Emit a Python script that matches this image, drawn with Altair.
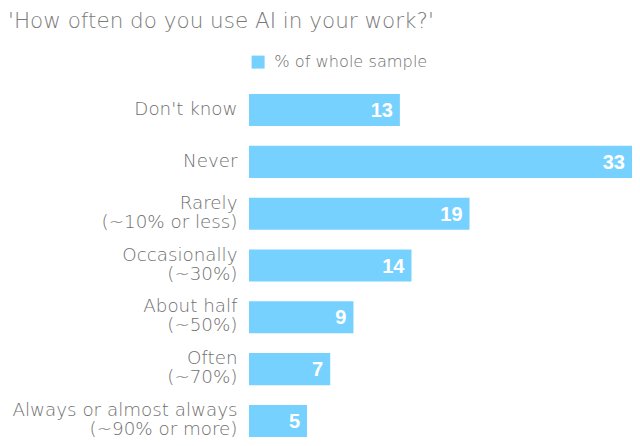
import altair as alt
import pandas as pd

categories = [
    "Don't know",
    "Never",
    "Rarely\n(~10% or less)",
    "Occasionally\n(~30%)",
    "About half\n(~50%)",
    "Often\n(~70%)",
    "Always or almost always\n(~90% or more)",
]
values = [13, 33, 19, 14, 9, 7, 5]
series_name = "% of whole sample"

df = pd.DataFrame({"category": categories, "value": values, "series": series_name})

BAR = "#77D1FF"
GRAY = "#6f6f6f"
FONT = "DejaVu Sans"

base = alt.Chart(df).encode(
    y=alt.Y(
        "category:N",
        sort=categories,
        scale=alt.Scale(paddingInner=0.38, paddingOuter=0.0),
        axis=alt.Axis(
            title=None,
            domain=False,
            ticks=False,
            labelPadding=12,
            labelFontSize=18.3,
            labelFont=FONT,
            labelFontWeight=200,
            labelColor=GRAY,
            labelLimit=0,
            labelLineHeight=19,
            labelOffset={
                "condition": {"test": "indexof(datum.value, '\\n') >= 0", "value": -10},
                "value": 0,
            },
            labelExpr="split(datum.label, '\\n')",
        ),
    ),
    x=alt.X("value:Q", scale=alt.Scale(domain=[0, 33], nice=False), axis=None),
)

bars = base.mark_bar().encode(
    color=alt.Color(
        "series:N",
        scale=alt.Scale(range=[BAR]),
        legend=alt.Legend(
            title=None,
            orient="none",
            legendX=1,
            legendY=-40,
            symbolType="square",
            symbolSize=169,
            symbolStrokeWidth=0,
            labelFontSize=16.2,
            labelFont=FONT,
            labelFontWeight=200,
            labelColor=GRAY,
            labelOffset=8,
        ),
    )
)

labels = base.mark_text(
    align="right", baseline="middle", dx=-7, dy=1, color="white",
    fontSize=20, fontWeight="bold", font="Liberation Sans",
).encode(text="value:Q")

chart = (
    alt.layer(bars, labels)
    .properties(
        width=383,
        height=343,
        autosize=alt.AutoSizeParams(type="none"),
        padding={"left": 241, "top": 86, "right": 0, "bottom": 1},
        title=alt.TitleParams(
            "'How often do you use AI in your work?'",
            anchor="start",
            frame="group",
            dx=-241,
            fontSize=21.5,
            font=FONT,
            fontWeight=200,
            color="#7a7a7a",
            offset=22,
        ),
    )
    .configure_view(stroke=None)
)

chart.save("out.html", embed_options={"renderer": "svg", "actions": False})
